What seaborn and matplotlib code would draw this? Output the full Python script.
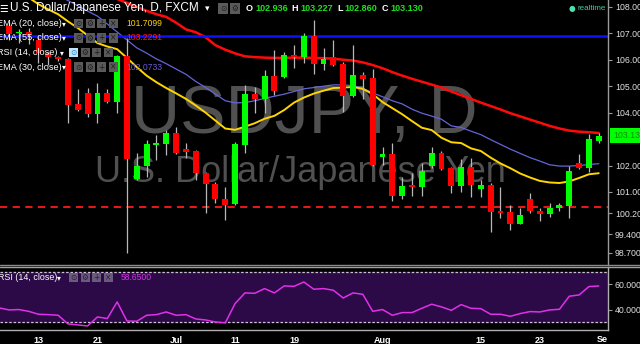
import numpy as np
import matplotlib
matplotlib.use("Agg")
import matplotlib.pyplot as plt
import seaborn as sns
from matplotlib.transforms import blended_transform_factory
from matplotlib.patches import Rectangle
from matplotlib.lines import Line2D

# ---------------- data ----------------
days = list(range(61))          # trading days, 0 = 8 Jun
tick_pos = [3, 9, 17, 23, 29, 38, 48, 54]
tick_labels = ['13', '21', 'Jul', '11', '19', 'Aug', '15', '23']

opens = [107.28, 107.00, 107.05, 106.75, 106.26, 106.10, 106.03, 104.33, 104.74, 103.95,
         104.74, 104.40, 106.14, 101.49, 101.98, 102.78, 102.81, 103.23, 102.63, 102.55,
         101.72, 101.30, 100.74, 100.55, 102.78, 104.71, 104.52, 105.39, 105.35, 106.18,
         106.10, 106.90, 105.84, 106.10, 105.84, 104.63, 105.42, 105.31, 102.32, 102.44,
         100.85, 101.23, 101.19, 101.98, 102.47, 101.91, 101.23, 101.95, 101.11, 101.26,
         100.28, 100.24, 99.79, 100.74, 100.28, 100.17, 100.40, 100.47, 102.10, 101.91,
         102.936]
highs = [107.43, 107.15, 107.20, 106.85, 106.30, 106.15, 106.08, 104.89, 104.93, 105.12,
         104.89, 106.18, 106.82, 102.47, 102.97, 103.15, 103.34, 103.46, 102.85, 102.59,
         101.76, 101.38, 101.19, 102.89, 105.05, 104.97, 105.61, 106.37, 106.29, 106.56,
         107.01, 107.50, 106.44, 106.75, 105.91, 106.56, 105.54, 105.65, 102.70, 102.85,
         101.57, 101.72, 102.10, 102.70, 102.55, 101.95, 102.25, 102.29, 101.45, 101.34,
         101.19, 100.51, 100.40, 100.96, 100.40, 100.58, 100.58, 101.98, 102.44, 103.19,
         103.227]
lows = [106.75, 106.63, 106.60, 105.88, 105.80, 105.95, 103.61, 104.05, 103.84, 103.61,
        104.36, 103.99, 98.69, 101.45, 101.57, 102.21, 102.40, 102.42, 102.29, 101.45,
        100.21, 100.58, 99.94, 100.51, 102.47, 103.99, 103.99, 104.67, 105.30, 105.69,
        105.88, 105.46, 105.61, 105.76, 104.02, 104.59, 104.52, 101.98, 102.02, 100.66,
        100.74, 100.85, 100.85, 101.91, 101.83, 100.96, 101.00, 100.81, 100.81, 99.49,
        100.02, 99.56, 99.79, 100.21, 99.90, 100.05, 100.28, 100.02, 101.87, 101.76,
        102.860]
closes = [106.97, 107.05, 106.94, 106.26, 106.10, 106.03, 104.29, 104.10, 103.95, 104.74,
          104.40, 106.14, 102.25, 101.98, 102.81, 102.85, 103.23, 102.47, 102.51, 101.72,
          101.30, 100.74, 100.51, 102.81, 104.71, 104.52, 105.39, 104.82, 106.18, 106.10,
          106.90, 105.84, 106.03, 105.80, 104.63, 105.42, 105.27, 102.02, 102.44, 100.85,
          101.23, 101.19, 101.79, 102.47, 101.87, 101.23, 101.95, 101.26, 101.26, 100.24,
          100.21, 99.79, 100.13, 100.28, 100.17, 100.40, 100.51, 101.79, 101.91, 103.00,
          103.130]

ema20 = [108.90, 108.60, 108.35, 108.10, 107.90, 107.72, 107.45, 107.20, 106.92, 106.63,
         106.50, 106.40, 106.07, 105.72, 105.40, 105.15, 104.93, 104.73, 104.52, 104.27,
         104.00, 103.70, 103.40, 103.35, 103.47, 103.60, 103.77, 103.88, 104.10, 104.38,
         104.57, 104.72, 104.83, 104.93, 104.95, 104.97, 104.90, 104.70, 104.40, 104.17,
         103.94, 103.68, 103.43, 103.34, 103.05, 102.88, 102.85, 102.65, 102.55, 102.30,
         102.08, 101.90, 101.70, 101.55, 101.42, 101.36, 101.34, 101.40, 101.53, 101.67,
         101.71]
ema30 = [109.40, 109.20, 109.00, 108.80, 108.60, 108.42, 108.24, 108.04, 107.84, 107.65,
         107.35, 107.05, 106.75, 106.45, 106.25, 106.03, 105.85, 105.65, 105.45, 105.18,
         104.95, 104.70, 104.45, 104.37, 104.38, 104.45, 104.54, 104.62, 104.70, 104.80,
         104.90, 104.95, 105.00, 105.05, 105.05, 105.02, 104.92, 104.75, 104.60, 104.45,
         104.33, 104.13, 103.98, 103.87, 103.75, 103.50, 103.44, 103.30, 103.17, 102.98,
         102.80, 102.62, 102.46, 102.30, 102.17, 102.03, 101.98, 101.98, 102.00, 102.04,
         102.07]
ema55 = [109.90, 109.80, 109.70, 109.60, 109.45, 109.30, 109.15, 108.95, 108.75, 108.55,
         108.40, 108.30, 108.15, 108.00, 107.85, 107.72, 107.62, 107.40, 107.15, 107.04,
         106.85, 106.55, 106.38, 106.24, 106.13, 106.10, 106.08, 106.07, 106.07, 106.08,
         106.08, 106.07, 106.06, 106.04, 106.00, 105.97, 105.90, 105.80, 105.68, 105.53,
         105.40, 105.28, 105.17, 105.06, 104.95, 104.80, 104.66, 104.52, 104.38, 104.25,
         104.12, 103.98, 103.86, 103.74, 103.62, 103.50, 103.40, 103.32, 103.28, 103.26,
         103.23]

rsi_days = list(range(-1, 61))
rsi = [41.4, 39.8, 40.1, 38.7, 36.4, 36.1, 35.6, 28.8, 28.0, 27.2, 34.3,
       33.0, 46.1, 31.1, 30.9, 35.6, 36.1, 38.2, 35.6, 36.1, 32.7,
       31.9, 30.3, 29.6, 44.8, 53.2, 52.9, 56.6, 53.2, 58.7, 58.4,
       61.8, 56.1, 56.6, 55.3, 49.2, 53.2, 52.1, 38.7, 40.1, 35.6,
       37.7, 37.7, 41.1, 44.3, 42.2, 39.5, 44.0, 41.1, 40.8, 36.4,
       36.4, 34.8, 36.9, 38.5, 38.2, 39.8, 40.3, 50.6, 51.6, 58.2,
       58.65]

price_ticks = [108.0, 107.0, 106.0, 105.0, 104.0, 102.0, 101.0, 100.2, 99.4, 98.7]
rsi_ticks = [60, 40]
resistance = 106.91
support = 100.43
last_close = 103.130

# ---------------- style ----------------
sns.set_theme(style="dark", rc={"axes.facecolor": "black", "figure.facecolor": "black"})
plt.rcParams['font.family'] = ['Liberation Sans', 'DejaVu Sans']

W, H = 640, 344
def fx(x):
    return x / W
def fy(y):
    return 1 - y / H

fig = plt.figure(figsize=(6.4, 3.44), dpi=100, facecolor='black')
ax = fig.add_axes([0, fy(265), fx(608), 265 / H])
ax2 = fig.add_axes([0, fy(330), fx(608), 63 / H])

XL = (-0.916, 60.94)

# ---------------- main price panel ----------------
ax.set_facecolor('black')
ax.grid(False)
ax.set_xlim(*XL)
ax.set_ylim(98.24, 108.259)

ax.text(fx(304), fy(133), "USDJPY, D", transform=fig.transFigure, ha='center',
        va='baseline', fontsize=49, color='#505050', zorder=0.5)
ax.text(fx(300), fy(182), "U.S. Dollar/Japanese Yen", transform=fig.transFigure,
        ha='center', va='baseline', fontsize=26, color='#505050', zorder=0.5)

sns.lineplot(x=days, y=ema55, ax=ax, color='#ff0a0a', linewidth=1.8, zorder=2, legend=False)
sns.lineplot(x=days, y=ema30, ax=ax, color='#6464dc', linewidth=0.9, zorder=2, legend=False)
sns.lineplot(x=days, y=ema20, ax=ax, color='#ffd500', linewidth=1.4, zorder=2, legend=False)

ax.axhline(resistance, color='#1010ff', linewidth=1.8, zorder=2.5)
ax.axhline(support, color='#ff1a1a', linewidth=1.3, linestyle=(0, (4, 3)), zorder=2.5)

o = np.array(opens); c = np.array(closes)
cols = ['#00ff00' if cc >= oo else '#ff0000' for oo, cc in zip(o, c)]
ax.vlines(days, lows, highs, color='#b8b8b8', linewidth=0.9, zorder=3)
ax.bar(days, np.maximum(np.abs(c - o), 0.06), bottom=np.minimum(o, c), width=0.6,
       color=cols, edgecolor='none', zorder=4)

for s in ['top', 'left', 'bottom']:
    ax.spines[s].set_visible(False)
ax.spines['right'].set_color('#9a9a9a')
ax.spines['right'].set_linewidth(1)
ax.set_xticks([])
ax.yaxis.tick_right()
ax.set_yticks(price_ticks)
ax.set_yticklabels([f"{v:.3f}" for v in price_ticks])
ax.tick_params(axis='y', colors='#9a9a9a', labelcolor='#e0e0e0', labelsize=6.3,
               length=3, width=0.8, pad=2)

tr = blended_transform_factory(ax.transAxes, ax.transData)
ax.text(1.0 + 5 / 608, last_close, "103.130", transform=tr, ha='left', va='center',
        fontsize=6.3, color='#0a8a0a', clip_on=False, zorder=10,
        bbox=dict(boxstyle='square,pad=0.35', fc='#00ff00', ec='none'))

# ---------------- RSI panel ----------------
ax2.set_facecolor('black')
ax2.grid(False)
ax2.set_xlim(*XL)
ax2.set_ylim(24.0, 73.6)
ax2.axhspan(30, 70, color='#2c0a48', zorder=0.5)
ax2.axhline(70, color='#c8c8c8', linewidth=0.9, linestyle=(0, (2, 1.5)), zorder=1)
ax2.axhline(30, color='#c8c8c8', linewidth=0.9, linestyle=(0, (2, 1.5)), zorder=1)
sns.lineplot(x=rsi_days, y=rsi, ax=ax2, color='#e030e8', linewidth=1.1, zorder=3, legend=False)

for s in ['top', 'left']:
    ax2.spines[s].set_visible(False)
for s in ['right', 'bottom']:
    ax2.spines[s].set_color('#b0b0b0')
    ax2.spines[s].set_linewidth(1)
ax2.yaxis.tick_right()
ax2.set_yticks(rsi_ticks)
ax2.set_yticklabels([f"{v:.4f}" for v in rsi_ticks])
ax2.tick_params(axis='y', colors='#9a9a9a', labelcolor='#e0e0e0', labelsize=6.3,
                length=3, width=0.8, pad=2)
ax2.set_xticks(tick_pos)
ax2.set_xticklabels(tick_labels)
ax2.tick_params(axis='x', colors='#c0c0c0', labelcolor='white', labelsize=6.5,
                length=3, width=0.8, pad=1.5)
for lb in ax2.get_xticklabels():
    lb.set_fontweight('bold')
ax2.text(0.999, -0.075, "Se", transform=ax2.transAxes, ha='right', va='top',
         fontsize=6.5, color='white', fontweight='bold', clip_on=False)

# separator lines
fig.add_artist(Line2D([0, 1], [fy(265.2), fy(265.2)], color='#8a8a8a', linewidth=1))
fig.add_artist(Line2D([0, 1], [fy(267.2), fy(267.2)], color='#a0a0a0', linewidth=1))

# ---------------- header / legends ----------------
def icon(x, yc, ch, fc='#5a5a5a', tc='#1c1c1c', size=9):
    fig.add_artist(Rectangle((fx(x), fy(yc + size / 2)), size / W, size / H,
                             transform=fig.transFigure, fc=fc, ec='none', zorder=5))
    fig.text(fx(x + size / 2), fy(yc), ch, ha='center', va='center', fontsize=5.5,
             color=tc, zorder=6, family=['DejaVu Sans'])

fig.text(fx(-1), fy(8.5), "☰", ha='left', va='center', fontsize=7, color='white',
         family=['DejaVu Sans'])
fig.text(fx(10), fy(8.5), "U.S. Dollar/Japanese Yen, D, FXCM", ha='left', va='center',
         fontsize=8.5, color='white')
fig.text(fx(205), fy(8.5), "▾", ha='left', va='center', fontsize=6.5, color='white',
         family=['DejaVu Sans'])
icon(218, 8.5, "⊙", size=10)
icon(230, 8.5, "⚙", size=10)
ohlc = [("O", 246, "102.936", 255), ("H", 291, "103.227", 300),
        ("L", 337, "102.860", 344), ("C", 382, "103.130", 390)]
for lt, lx, val, vx in ohlc:
    fig.text(fx(lx), fy(8.5), lt, ha='left', va='center', fontsize=6.5, color='white',
             fontweight='bold')
    fig.text(fx(vx), fy(8.5), val, ha='left', va='center', fontsize=6.5, color='#1ee01e',
             fontweight='bold')

fig.text(fx(572), fy(8), "●", ha='center', va='center', fontsize=5.5, color='#4fe0b0',
         family=['DejaVu Sans'])
fig.text(fx(577), fy(8), "realtime", ha='left', va='center', fontsize=5.8, color='#3fcf9f')

rows = [("EMA (20, close)", 23.5, "101.7099", '#ffd400', False),
        ("EMA (55, close)", 38.0, "103.2291", '#ff1a1a', False),
        ("RSI (14, close)", 52.5, None, None, True),
        ("EMA (30, close)", 67.0, "102.0733", '#6b5bd6', False)]
for name, yc, val, vcol, is_rsi in rows:
    fig.text(fx(-3), fy(yc), name, ha='left', va='center', fontsize=6.6, color='white')
    fig.text(fx(60 if is_rsi else 62), fy(yc), "▾", ha='left', va='center', fontsize=5.5,
             color='white', family=['DejaVu Sans'])
    x0 = 69 if is_rsi else 74
    for j, ch in enumerate(["⊙", "⚙", "+", "×"]):
        if is_rsi and j == 0:
            icon(x0 + j * 11.5, yc, ch, fc='#bfe6f7', tc='#2a7fd4')
        else:
            icon(x0 + j * 11.5, yc, ch)
    if val is not None:
        fig.text(fx(126), fy(yc), val, ha='left', va='center', fontsize=6.2, color=vcol)

# RSI panel legend
fig.text(fx(-2), fy(277.5), "RSI (14, close)", ha='left', va='center', fontsize=6.4,
         color='white')
fig.text(fx(57), fy(277.5), "▾", ha='left', va='center', fontsize=5.5, color='white',
         family=['DejaVu Sans'])
for j, ch in enumerate(["⊙", "⚙", "+", "×"]):
    icon(69 + j * 11.5, 277.5, ch, fc='#6a5a7c', tc='#2a1a3a')
fig.text(fx(121), fy(277.5), "58.6500", ha='left', va='center', fontsize=6.2,
         color='#d633e0')

fig.savefig("out.png", dpi=100, facecolor='black')
